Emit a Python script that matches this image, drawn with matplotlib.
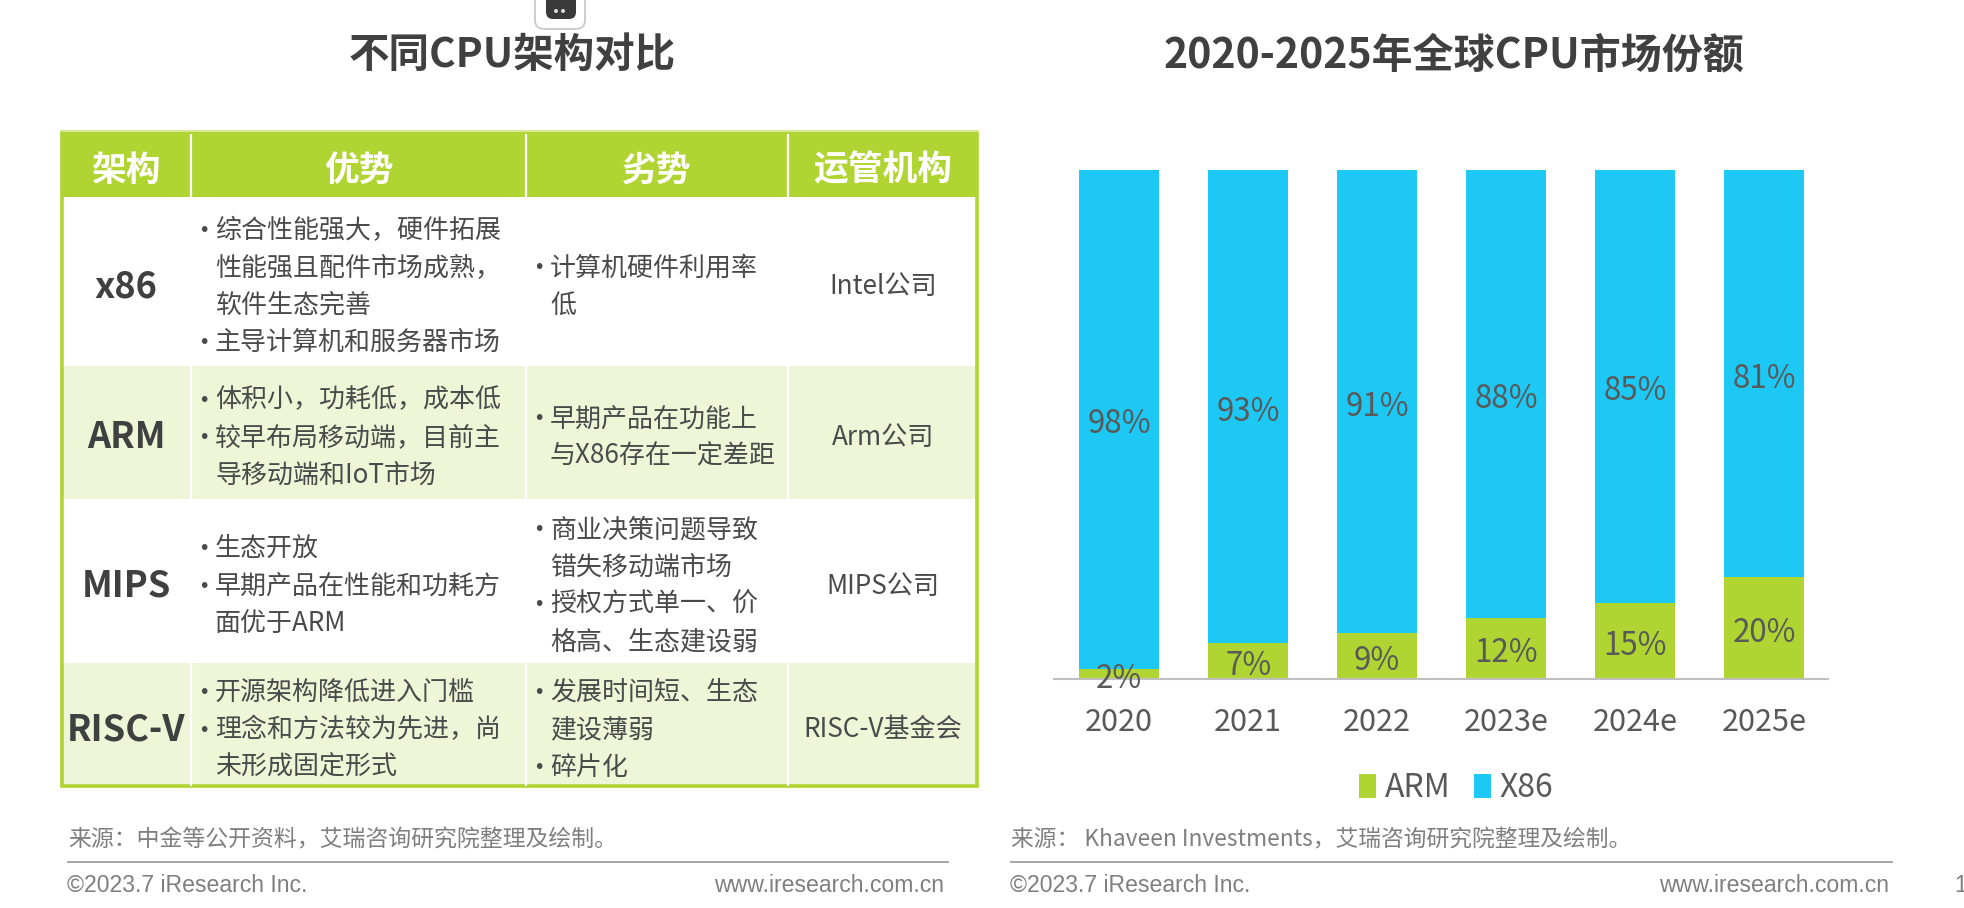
import matplotlib
matplotlib.use("Agg")
import matplotlib.pyplot as plt
from matplotlib.patches import Rectangle, FancyBboxPatch, Circle

FONT = ['Noto Sans CJK SC', 'DejaVu Sans']
plt.rcParams['font.family'] = FONT

years = ['2020', '2021', '2022', '2023e', '2024e', '2025e']
arm = [2, 7, 9, 12, 15, 20]
x86 = [98, 93, 91, 88, 85, 81]

headers = ['架构', '优势', '劣势', '运管机构']
names = ['x86', 'ARM', 'MIPS', 'RISC-V']
pros = [
    [['综合性能强大，硬件拓展', '性能强且配件市场成熟，', '软件生态完善'], ['主导计算机和服务器市场']],
    [['体积小，功耗低，成本低'], ['较早布局移动端，目前主', '导移动端和IoT市场']],
    [['生态开放'], ['早期产品在性能和功耗方', '面优于ARM']],
    [['开源架构降低进入门槛'], ['理念和方法较为先进，尚', '未形成固定形式']],
]
cons = [
    [['计算机硬件利用率', '低']],
    [['早期产品在功能上', '与X86存在一定差距']],
    [['商业决策问题导致', '错失移动端市场'], ['授权方式单一、价', '格高、生态建设弱']],
    [['发展时间短、生态', '建设薄弱'], ['碎片化']],
]
orgs = ['Intel公司', 'Arm公司', 'MIPS公司', 'RISC-V基金会']

GREEN = '#B0D432'
LIGHT = '#EFF5D7'
BLUE = '#1EC8F5'
DARK = '#404040'
TXT = '#4A4A4A'
GREY = '#7F7F7F'

W, H = 1964, 908
fig = plt.figure(figsize=(W / 100, H / 100), dpi=100, facecolor='white')
bg = fig.add_axes([0, 0, 1, 1])
bg.set_xlim(0, W)
bg.set_ylim(H, 0)
bg.axis('off')

# top icon
bg.add_patch(FancyBboxPatch((538, -20), 44, 46, boxstyle='round,pad=3,rounding_size=9',
                            fc='white', ec='#C4C4C4', lw=1.2))
bg.add_patch(FancyBboxPatch((548, -10), 26, 27, boxstyle='round,pad=2,rounding_size=7',
                            fc='#3A3A3A', ec='none'))
bg.add_patch(Circle((556, 11), 2, fc='#DDDDDD', ec='none'))
bg.add_patch(Circle((563, 11), 2, fc='#DDDDDD', ec='none'))

# titles
bg.text(512, 55, '不同CPU架构对比', fontsize=29.2, fontweight='bold', color=DARK, ha='center', va='center')
bg.text(1454, 55, '2020-2025年全球CPU市场份额', fontsize=29.5, fontweight='bold', color=DARK, ha='center', va='center')

# table
col_x = [61, 191, 526, 788, 978]
row_y = [131, 197, 366, 499, 663, 787]
LINE = 37.4
DY = 5
bg.add_patch(Rectangle((col_x[0], row_y[0]), col_x[-1] - col_x[0], row_y[1] - row_y[0], fc=GREEN, ec='none'))
for i in range(4):
    if i % 2 == 1:
        bg.add_patch(Rectangle((col_x[0], row_y[i + 1]), col_x[-1] - col_x[0], row_y[i + 2] - row_y[i + 1],
                               fc=LIGHT, ec='none'))
for x in col_x[1:-1]:
    bg.plot([x, x], [row_y[0] + 3, row_y[-1] - 1], color='white', lw=1.6, solid_capstyle='butt')
bg.plot([col_x[0], col_x[-1]], [row_y[0], row_y[0]], color='#DDEBA8', lw=1.2)
bg.add_patch(Rectangle((col_x[0] + 1, row_y[0] + 1), col_x[-1] - col_x[0] - 2, row_y[-1] - row_y[0] - 2,
                       fc='none', ec=GREEN, lw=2.6))

for j, h in enumerate(headers):
    bg.text((col_x[j] + col_x[j + 1]) / 2, (row_y[0] + row_y[1]) / 2 + DY + 1, h, color='white', fontsize=25,
            fontweight='bold', ha='center', va='center')


def bullets(items, col, cy):
    n = sum(len(b) for b in items)
    y = cy - (n - 1) * LINE / 2
    for b in items:
        bg.text(col_x[col] + 13, y, '•', fontsize=14, color=TXT, ha='center', va='center',
                family='DejaVu Sans')
        for line in b:
            bg.text(col_x[col] + 24, y, line, fontsize=18.7, color=TXT, ha='left', va='center')
            y += LINE


for i in range(4):
    cy = (row_y[i + 1] + row_y[i + 2]) / 2
    bg.text((col_x[0] + col_x[1]) / 2, cy + DY, names[i], fontsize=26, fontweight='bold', color=DARK,
            ha='center', va='center')
    bullets(pros[i], 1, cy + DY)
    bullets(cons[i], 2, cy + DY)
    bg.text((col_x[3] + col_x[4]) / 2, cy + DY, orgs[i], fontsize=18.8, color=TXT, ha='center', va='center')

# sources and footers
bg.text(68, 840, '来源：中金等公开资料，艾瑞咨询研究院整理及绘制。', fontsize=16.5, color=GREY, ha='left', va='center')
bg.text(1011, 840, '来源： Khaveen Investments，艾瑞咨询研究院整理及绘制。', fontsize=16.4, color=GREY, ha='left', va='center')
for x0, x1 in ((68, 948), (1011, 1892)):
    bg.plot([x0, x1], [862, 862], color='#A6A6A6', lw=1.4)
LS = 'Liberation Sans'
bg.text(67, 885, '©2023.7 iResearch Inc.', fontsize=16.6, color=GREY, family=LS, ha='left', va='center')
bg.text(944, 885, 'www.iresearch.com.cn', fontsize=16.6, color=GREY, family=LS, ha='right', va='center')
bg.text(1010, 885, '©2023.7 iResearch Inc.', fontsize=16.6, color=GREY, family=LS, ha='left', va='center')
bg.text(1889, 885, 'www.iresearch.com.cn', fontsize=16.6, color=GREY, family=LS, ha='right', va='center')
bg.text(1954, 885, '1', fontsize=16.6, color=GREY, family=LS, ha='left', va='center')

# chart
ax_l, ax_r, ax_t, ax_b = 1054, 1828, 170, 679
ax = fig.add_axes([ax_l / W, 1 - ax_b / H, (ax_r - ax_l) / W, (ax_b - ax_t) / H])
ax.patch.set_alpha(0)
pos = range(len(years))
b1 = ax.bar(pos, arm, width=0.625, color=GREEN, label='ARM')
b2 = ax.bar(pos, x86, width=0.625, bottom=arm, color=BLUE, label='X86')
labels1 = ax.bar_label(b1, labels=[f'{v}%' for v in arm], label_type='center', fontsize=22.5, color='#595959')
labels2 = ax.bar_label(b2, labels=[f'{v}%' for v in x86], label_type='center', fontsize=22.5, color='#595959')
for t in list(labels1) + list(labels2):
    t.xyann = (0, -3.6)
ax.set_xlim(-0.505, 5.495)
ax.set_ylim(0, 100)
ax.set_yticks([])
ax.set_xticks(list(pos), years, fontsize=22, color='#595959')
ax.tick_params(axis='x', length=0, pad=20)
for s in ('top', 'left', 'right'):
    ax.spines[s].set_visible(False)
ax.spines['bottom'].set_color('#BFBFBF')
ax.spines['bottom'].set_linewidth(1.5)
ax.legend(loc='center', bbox_to_anchor=(1456 / W, 1 - 788 / H), bbox_transform=fig.transFigure, ncol=2,
          frameon=False, fontsize=23, labelcolor='#595959', handlelength=0.54, handleheight=0.75,
          handletextpad=0.27, columnspacing=0.73)

fig.savefig('out.png', dpi=100, facecolor='white')
